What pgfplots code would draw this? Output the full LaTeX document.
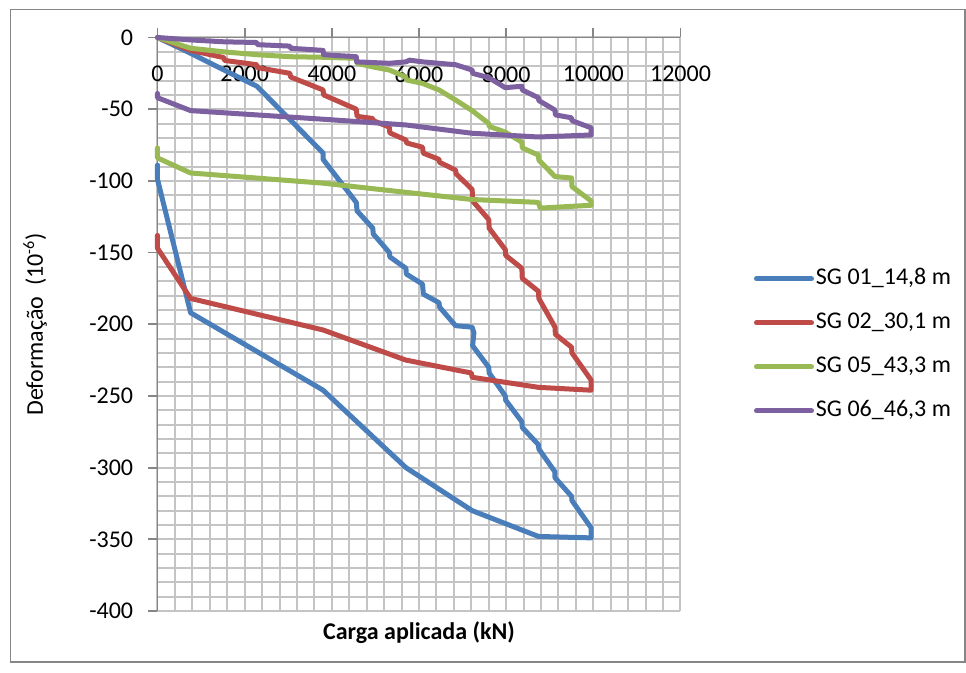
\documentclass[border=0pt]{standalone}
\usepackage{fontspec}
\setmainfont{Carlito}
\usepackage{pgfplots}
\pgfplotsset{compat=1.18}
\definecolor{sgblue}{HTML}{4A7EBB}
\definecolor{sgred}{HTML}{BE4B48}
\definecolor{sggreen}{HTML}{98B954}
\definecolor{sgpurple}{HTML}{7D60A0}
\definecolor{gridgray}{HTML}{C4C4C4}
\definecolor{axgray}{HTML}{868686}
\begin{document}
\fontsize{12}{14}\selectfont
\begin{tikzpicture}
\useasboundingbox (0,0) rectangle (483pt,-336.5pt);
\fill[white] (0,0) rectangle (483pt,-336.5pt);
\draw[axgray, line width=0.8pt] (5.25pt,-4.75pt) rectangle (482.6pt,-331pt);
\begin{axis}[
  at={(78.75pt,-18.75pt)}, anchor=north west,
  scale only axis, width=261.5pt, height=286.75pt,
  xmin=0, xmax=12000, ymin=-400, ymax=0,
  clip=false,
  scaled x ticks=false, scaled y ticks=false,
  axis x line=top, axis y line=left,
  axis line style={-, axgray, line width=0.9pt},
  xtick={0,2000,4000,6000,8000,10000,12000},
  ytick={-400,-350,-300,-250,-200,-150,-100,-50,0},
  xticklabels={0,2000,4000,6000,8000,10000,12000},
  yticklabels={-400,-350,-300,-250,-200,-150,-100,-50,0},
  minor xtick={400,800,...,11600},
  minor ytick={-390,-380,...,-10},
  grid=both,
  major grid style={gridgray, line width=1pt},
  minor grid style={gridgray, line width=1pt},
  tick align=outside, major tick length=4.5pt, minor tick length=0pt,
  tick style={axgray, line width=0.9pt},
  xticklabel style={anchor=north, yshift=-14.5pt, font=\fontsize{12}{14}\selectfont},
  yticklabel style={xshift=-3.5pt, font=\fontsize{12}{14}\selectfont},
  xlabel={\textbf{Carga aplicada (kN)}},
  xlabel style={at={(axis description cs:0.5,-0.038)}, anchor=center, font=\fontsize{12}{14}\selectfont},
  ylabel={Deformação\ \ (10\textsuperscript{-6})},
  ylabel style={at={(axis description cs:-0.234,0.5)}, anchor=center, rotate=0, font=\fontsize{12}{14}\selectfont},
  legend style={draw=none, fill=none, inner sep=0pt, outer sep=0pt,
    at={(axis description cs:1.1405,0.464)}, anchor=west,
    font=\fontsize{12}{14}\selectfont, row sep=9pt,
    nodes={inner sep=1pt, text height=8.5pt, text depth=2.5pt}},
  legend cell align=left,
  legend image code/.code={\draw[#1, line width=2.5pt, line cap=round] (0pt,0pt) -- (27.5pt,0pt);},
  every axis plot/.append style={line width=2.5pt, line join=round, line cap=round},
]
\addplot[sgblue] coordinates {
(0,0) (760,-11) (1520,-22.6) (2280,-34) (3040,-57.3) (3800,-80.6) (3800,-85)
(4560,-115) (4580,-121) (4940,-133) (4950,-137) (5320,-150) (5330,-153)
(5700,-161) (5710,-165) (6080,-172) (6100,-179) (6460,-185) (6470,-188)
(6840,-201) (7220,-202) (7260,-206) (7230,-215) (7600,-230) (7610,-234)
(7980,-250) (7990,-253) (8360,-268) (8370,-272) (8740,-284) (8750,-287)
(9120,-303) (9120,-307) (9500,-320) (9510,-323) (9950,-342) (9950,-349)
(8740,-348) (7220,-330) (5700,-300) (3800,-246) (760,-192) (0,-99) (0,-89)
};
\addlegendentry{SG 01\_14,8 m}
\addplot[sgred] coordinates {
(0,0) (760,-9) (1520,-14) (1540,-16) (2280,-19) (2290,-21)
(3040,-25) (3050,-27.5) (3800,-36.6) (3810,-40) (4560,-50) (4580,-55)
(4940,-56.5) (4950,-58) (5320,-62.5) (5330,-66.5) (5700,-71.5) (5720,-73.6)
(6080,-76.5) (6100,-80.7) (6460,-85) (6470,-87) (6840,-92.5) (6850,-95)
(7220,-106) (7230,-114) (7600,-127) (7610,-133) (7980,-148) (7990,-152)
(8360,-161) (8370,-168) (8740,-177) (8750,-182) (9120,-202) (9130,-207)
(9500,-216) (9510,-220) (9950,-239) (9950,-246) (8740,-244) (7220,-237)
(7200,-234) (5700,-225) (3800,-204) (760,-182) (0,-147) (0,-138)
};
\addlegendentry{SG 02\_30,1 m}
\addplot[sggreen] coordinates {
(0,0) (760,-7.5) (1520,-10) (2280,-12) (3040,-13.4) (3800,-13.8) (4560,-14.5)
(4580,-18) (4940,-20.5) (5320,-22.7) (5700,-27.5) (5710,-29.6) (6080,-32)
(6460,-36.6) (6840,-43.6) (7220,-51) (7600,-60) (7610,-62) (7980,-66)
(8360,-73) (8370,-77) (8740,-82) (8750,-85.5) (9120,-97) (9500,-98)
(9510,-104) (9950,-114) (9950,-117) (8780,-119) (8740,-115) (7220,-113)
(5700,-108) (3800,-101.6) (760,-94.5) (0,-84) (0,-77)
};
\addlegendentry{SG 05\_43,3 m}
\addplot[sgpurple] coordinates {
(0,0) (760,-1.7) (1520,-3) (2280,-3.5) (2290,-5) (3040,-6) (3050,-7.5)
(3800,-9) (3810,-12) (4560,-13.4) (4570,-17) (4940,-17.5) (5320,-18)
(5700,-17) (5780,-15.8) (6080,-17) (6460,-18) (6840,-19) (7220,-22.7)
(7230,-25) (7600,-28) (7980,-35) (8360,-34) (8370,-36.6) (8740,-42)
(8750,-44) (9120,-50.6) (9130,-54) (9500,-56) (9510,-58) (9950,-63)
(9950,-68) (8740,-69.4) (7220,-66.8) (5700,-61) (3800,-57) (760,-51)
(0,-42) (0,-39)
};
\addlegendentry{SG 06\_46,3 m}
\end{axis}
\end{tikzpicture}
\end{document}
